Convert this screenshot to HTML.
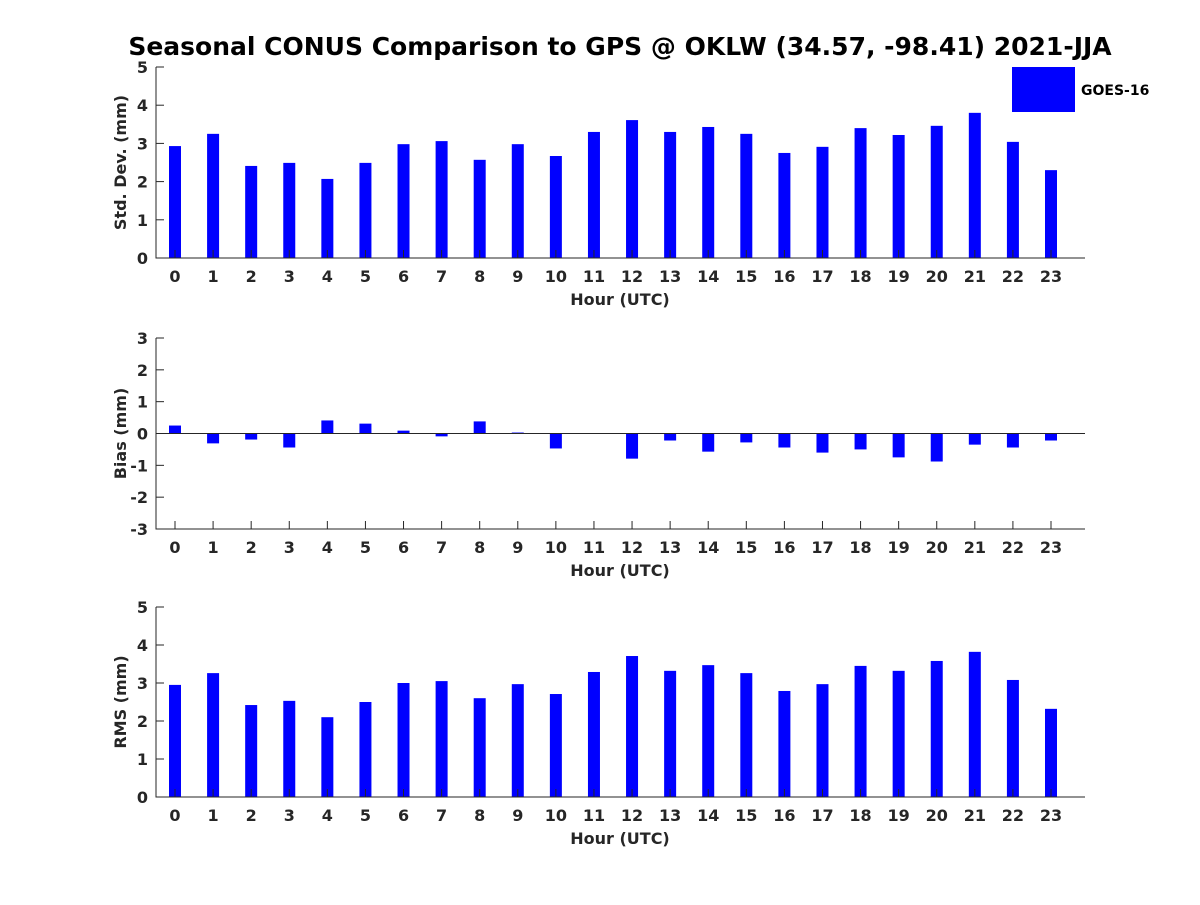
<!DOCTYPE html>
<html><head><meta charset="utf-8"><style>
body{margin:0;background:#fff;}
svg text{font-family:"DejaVu Sans","Liberation Sans",sans-serif;font-weight:bold;fill:#262626;}
</style></head><body>
<svg id="c" width="1200" height="900" xmlns="http://www.w3.org/2000/svg">
<text x="620" y="55" font-size="25" text-anchor="middle" fill="#000" style="fill:#000">Seasonal CONUS Comparison to GPS @ OKLW (34.57, -98.41) 2021-JJA</text>
<rect x="1012" y="67" width="63" height="45" fill="#0000ff"/>
<text x="1081" y="95" font-size="14" style="fill:#000">GOES-16</text>
</svg>
<script>
const hours=[0,1,2,3,4,5,6,7,8,9,10,11,12,13,14,15,16,17,18,19,20,21,22,23];
const stdVals=[2.93,3.25,2.41,2.49,2.07,2.49,2.98,3.06,2.57,2.98,2.67,3.30,3.61,3.30,3.43,3.25,2.75,2.91,3.40,3.22,3.46,3.80,3.04,2.30];
const biasVals=[0.25,-0.31,-0.19,-0.44,0.41,0.31,0.09,-0.09,0.38,0.03,-0.47,0,-0.79,-0.22,-0.57,-0.28,-0.44,-0.6,-0.5,-0.75,-0.88,-0.35,-0.44,-0.22];
const rmsVals=[2.95,3.26,2.42,2.53,2.1,2.5,3.0,3.05,2.6,2.97,2.71,3.29,3.71,3.32,3.47,3.26,2.79,2.97,3.45,3.32,3.58,3.82,3.08,2.32];
const stdTicks=[0,1,2,3,4,5];
const biasTicks=[-3,-2,-1,0,1,2,3];
const rmsTicks=[0,1,2,3,4,5];
const svg=document.getElementById('c');
const NS='http://www.w3.org/2000/svg';
function mk(t,a){const e=document.createElementNS(NS,t);for(const k in a)e.setAttribute(k,a[k]);svg.appendChild(e);return e;}
const X0=156,X1=1085;
function xs(h){return 175+h*(876/23);}
function panel(name,top,bot,ymin,ymax,vals,ticks,ylabel){
  const ys=v=>bot-(v-ymin)/(ymax-ymin)*(bot-top);
  const zero=ys(Math.max(ymin,0));
  vals.forEach((v,i)=>{
    const y=ys(v);
    const r=mk('rect',{x:xs(hours[i])-6,y:Math.min(y,zero),width:12,height:Math.abs(zero-y),fill:'#0000ff'});
    
    
  });
  if(ymin<0){const z=mk('line',{x1:X0,x2:X1,y1:zero,y2:zero,stroke:'#262626','stroke-width':1});
    }
  const a=mk('path',{d:`M${X0} ${top}V${bot}H${X1}`,fill:'none',stroke:'#262626','stroke-width':1});
  
  ticks.forEach(t=>{
    const y=ys(t);
    mk('line',{x1:X0,x2:X0+8,y1:y,y2:y,stroke:'#262626'});
    const tx=mk('text',{x:X0-8,y:y+6,'font-size':16,'text-anchor':'end'});tx.textContent=t;
    
  });
  hours.forEach(h=>{
    const x=xs(h);
    mk('line',{x1:x,x2:x,y1:bot,y2:bot-8,stroke:'#262626'});
    const tx=mk('text',{x:x,y:bot+24,'font-size':16,'text-anchor':'middle'});tx.textContent=h;
    
  });
  const xl=mk('text',{x:620,y:bot+47,'font-size':16,'text-anchor':'middle'});xl.textContent='Hour (UTC)';
  
  const cy=(top+bot)/2;
  const yl=mk('text',{x:126,y:cy,'font-size':16,'text-anchor':'middle',transform:`rotate(-90 126 ${cy})`});yl.textContent=ylabel;
  
}
panel('std-dev',67,258,0,5,stdVals,stdTicks,'Std. Dev. (mm)');
panel('bias',338,529,-3,3,biasVals,biasTicks,'Bias (mm)');
panel('rms',607,797,0,5,rmsVals,rmsTicks,'RMS (mm)');
</script>
</body></html>
